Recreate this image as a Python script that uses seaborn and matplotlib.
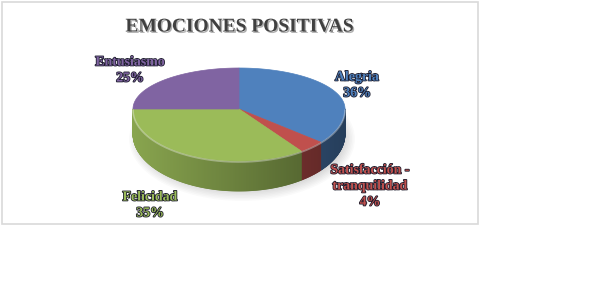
import numpy as np
import matplotlib
matplotlib.use("Agg")
import matplotlib.pyplot as plt
import matplotlib.patheffects as pe
from matplotlib.collections import PolyCollection
from matplotlib.patches import Polygon, Rectangle, Ellipse
import seaborn as sns

# data
categories = ["Alegria", "Satisfacción -\ntranquilidad", "Felicidad", "Entusiasmo"]
values = [36, 4, 35, 25]
pct_labels = ["36%", "4%", "35%", "25%"]
colors = ["#4F81BD", "#C0504D", "#9BBB59", "#8064A2"]
title = "EMOCIONES POSITIVAS"

sns.set_theme(style="white")
plt.rcParams['font.family'] = ['Liberation Serif', 'DejaVu Serif']
palette = sns.color_palette(colors)

fig = plt.figure(figsize=(6.06, 2.94), dpi=100)
ax = fig.add_axes([0, 0, 1, 1])
ax.set_xlim(0, 606)
ax.set_ylim(294, 0)
ax.axis('off')

# chart area border
ax.add_patch(Rectangle((1.5, 1.5), 476, 222, fill=False, edgecolor="#d9d9d9", lw=1.2))

# pie geometry (pixel space, y down)
cx, cy, a = 239, 109, 106
b_back, b_front = 41, 52


def top_pt(theta):
    t = np.radians(theta)
    s = np.sin(t)
    b = np.where(s > 0, b_back, b_front)
    return cx + a * np.cos(t), cy - b * s


def depth(theta):
    t = np.radians(theta)
    return 25 + 5 * np.clip(-np.sin(t), 0, None)


# soft shadow under the pie
for k in range(8):
    ax.add_patch(Ellipse((cx + 3, cy + 30), 2 * a + 14 - 3 * k, 2 * b_front + 20 - 3 * k,
                         color="#000000", alpha=0.018, lw=0))

total = sum(values)
cum = np.concatenate([[0], np.cumsum(values)]) / total
starts = 90 - 360 * cum[:-1]
ends = 90 - 360 * cum[1:]

# side walls (front half only), shaded strips
polys, fcs = [], []
for col, s0, s1 in zip(palette, starts, ends):
    th = np.linspace(s0, s1, max(int(abs(s1 - s0) * 2), 4))
    for t0, t1 in zip(th[:-1], th[1:]):
        tm = 0.5 * (t0 + t1)
        if np.sin(np.radians(tm)) >= 0:
            continue
        x0, y0 = top_pt(t0)
        x1, y1 = top_pt(t1)
        d0, d1 = depth(t0), depth(t1)
        polys.append([(x0, y0), (x1, y1), (x1, y1 + d1), (x0, y0 + d0)])
        f = 0.68 - 0.2 * np.cos(np.radians(tm))
        fcs.append(tuple(np.clip(np.array(col) * f, 0, 1)))
ax.add_collection(PolyCollection(polys, facecolors=fcs, edgecolors=fcs, linewidths=0.6))

# top faces
for col, s0, s1 in zip(palette, starts, ends):
    th = np.linspace(s0, s1, 200)
    xs, ys = top_pt(th)
    pts = np.column_stack([np.r_[cx, xs], np.r_[cy, ys]])
    ax.add_patch(Polygon(pts, closed=True, facecolor=col, edgecolor=col, lw=0.5))

# highlight along front rim
th = np.linspace(180, 360, 200)
xs, ys = top_pt(th)
ax.plot(xs, ys + 1, color="white", alpha=0.35, lw=1.2)

# labels
label_pos = [(357, 77), (370, 170), (150, 197), (130, 62)]
line_gap = 16
for name, pct, col, (lx, ly) in zip(categories, pct_labels, colors, label_pos):
    lines = name.split("\n") + [pct]
    for i, ln in enumerate(lines):
        ax.text(lx, ly + i * line_gap, ln, ha="center", va="center", fontsize=10,
                fontweight="bold", color=col,
                path_effects=[pe.Stroke(linewidth=1.2, foreground="#1f1f2f"), pe.Normal()])

ax.text(240, 27, title, ha="center", va="center", fontsize=14, fontweight="bold",
        color="#404040",
        path_effects=[pe.withSimplePatchShadow(offset=(1, -1), shadow_rgbFace="#9a9a9a", alpha=0.8)])

fig.savefig("out.png", dpi=100)
